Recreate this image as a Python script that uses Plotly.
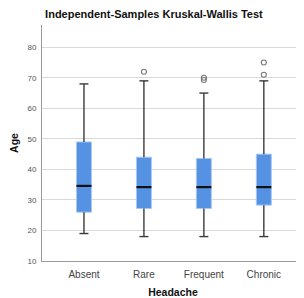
import plotly.graph_objects as go

categories = ["Absent", "Rare", "Frequent", "Chronic"]
lower_whisker = [19, 18, 18, 18]
q1 = [26, 27.2, 27.2, 28.3]
median = [34.6, 34.2, 34.2, 34.2]
q3 = [49, 44, 43.6, 45]
upper_whisker = [68, 69, 65, 69]
outliers = [[], [72], [70, 69.3], [75, 71]]
y_ticks = [10, 20, 30, 40, 50, 60, 70, 80]

pos = list(range(len(categories)))
box_w = 0.25
cap_hw = 0.075
med_hw = box_w / 2

fig = go.Figure()

# whiskers with caps
wx, wy = [], []
for i, p in enumerate(pos):
    wx += [p, p, None, p, p, None,
           p - cap_hw, p + cap_hw, None, p - cap_hw, p + cap_hw, None]
    wy += [lower_whisker[i], q1[i], None, q3[i], upper_whisker[i], None,
           lower_whisker[i], lower_whisker[i], None, upper_whisker[i], upper_whisker[i], None]
fig.add_trace(go.Scatter(x=wx, y=wy, mode="lines",
                         line=dict(color="#3a3a3a", width=1.4),
                         hoverinfo="skip", showlegend=False))

# boxes
fig.add_trace(go.Bar(x=pos, y=[b - a for a, b in zip(q1, q3)], base=q1,
                     width=box_w,
                     marker=dict(color="#5592e3", line=dict(color="#a9c8f2", width=1)),
                     showlegend=False))

# medians
mx, my = [], []
for i, p in enumerate(pos):
    mx += [p - med_hw, p + med_hw, None]
    my += [median[i], median[i], None]
fig.add_trace(go.Scatter(x=mx, y=my, mode="lines",
                         line=dict(color="#111111", width=2.2),
                         hoverinfo="skip", showlegend=False))

# outliers
ox, oy = [], []
for i, p in enumerate(pos):
    for v in outliers[i]:
        ox.append(p)
        oy.append(v)
fig.add_trace(go.Scatter(x=ox, y=oy, mode="markers",
                         marker=dict(symbol="circle-open", size=5,
                                     color="#777777", line=dict(width=1.1)),
                         showlegend=False))

fig.update_layout(
    width=296, height=290,
    margin=dict(l=34, r=0, t=17, b=37, autoexpand=False),
    plot_bgcolor="white", paper_bgcolor="white",
    font=dict(family="Liberation Sans, Arial, sans-serif", color="#222"),
    title=dict(text="<b>Independent-Samples Kruskal-Wallis Test</b>",
               x=0.493, xanchor="center", y=1 - 6.5 / 290, yanchor="middle",
               font=dict(size=11, color="#111")),
    barmode="overlay",
)
fig.update_xaxes(
    range=[-0.7, 3.67], tickvals=pos, ticktext=categories,
    showgrid=False, zeroline=False,
    showline=True, linecolor="#9a9a9a", linewidth=1,
    ticks="", ticklabelstandoff=4, tickfont=dict(size=10, color="#444"),
    title=dict(text="<b>Headache</b>", font=dict(size=10.5, color="#111"), standoff=12),
)
fig.update_yaxes(
    range=[10, 87.3], tickvals=y_ticks,
    showgrid=True, gridcolor="#d9d9d9", gridwidth=1, zeroline=False,
    showline=True, linecolor="#9a9a9a", linewidth=1,
    ticks="", ticklabelstandoff=3, tickfont=dict(size=8, color="#555"),
    title=dict(text="<b>Age</b>", font=dict(size=10.5, color="#111"), standoff=8),
)

fig.write_html("out.html")
